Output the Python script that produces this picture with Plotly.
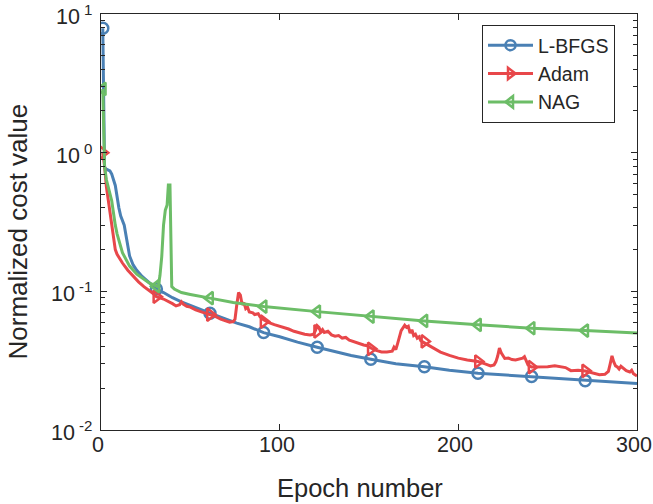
import math
import plotly.graph_objects as go

# ---------------- data ----------------
marker_epochs = [1, 31, 61, 91, 121, 151, 181, 211, 241, 271]

lbfgs_epoch = [1, 2, 3, 5, 6, 8, 10, 11, 13, 14, 16, 18, 20, 23, 26, 29, 31, 35, 40, 45,
               50, 55, 61, 70, 76, 83, 91, 100, 110, 121, 130, 140, 151, 165, 181, 195,
               211, 225, 241, 255, 271, 285, 300]
lbfgs_cost = [7.9, 0.78, 0.76, 0.74, 0.70, 0.58, 0.40, 0.35, 0.30, 0.25, 0.18, 0.155, 0.142,
              0.128, 0.118, 0.108, 0.104, 0.098, 0.090, 0.084, 0.079, 0.074, 0.0695, 0.063,
              0.059, 0.0555, 0.0504, 0.047, 0.043, 0.0395, 0.037, 0.0345, 0.0324, 0.030,
              0.0286, 0.027, 0.0257, 0.025, 0.0243, 0.0234, 0.0227, 0.0222, 0.0216]
lbfgs_mark = [7.9, 0.104, 0.0695, 0.0504, 0.0395, 0.0324, 0.0286, 0.0257, 0.0243, 0.0227]

adam_epoch = [1, 2, 3, 5, 6, 8, 9, 12, 15, 18, 21, 24, 27, 29, 31, 35, 40, 42, 44, 45, 46,
              48, 50, 53, 57, 61, 64, 67, 70, 72, 74, 75, 76, 77, 78, 79, 80, 81, 82, 83,
              85, 86, 88, 89, 91, 94, 97, 100, 102, 105, 108, 111, 114, 117, 119, 120,
              121, 122, 123, 124, 125, 127, 129, 131, 133, 135, 137, 139, 141, 143, 145,
              147, 149, 151, 154, 157, 160, 163, 164, 165, 166, 168, 170, 171, 172, 173,
              174, 175, 176, 177, 178, 179, 181, 183, 186, 190, 195, 200, 205, 211, 215,
              218, 220, 221, 222, 223, 224, 225, 226, 228, 230, 232, 234, 236, 237, 238,
              239, 241, 244, 247, 250, 254, 257, 260, 263, 267, 271, 275, 279, 282, 284,
              285, 286, 287, 288, 289, 290, 291, 292, 293, 294, 296, 297, 298, 300]
adam_cost = [1.0, 0.80, 0.57, 0.38, 0.29, 0.20, 0.185, 0.16, 0.142, 0.128, 0.117, 0.108,
             0.102, 0.097, 0.0915, 0.088, 0.0815, 0.0785, 0.080, 0.084, 0.081, 0.078, 0.077,
             0.0735, 0.0705, 0.068, 0.066, 0.063, 0.061, 0.060, 0.0605, 0.063, 0.080,
             0.098, 0.094, 0.080, 0.083, 0.075, 0.077, 0.071, 0.070, 0.068, 0.069, 0.0655,
             0.0625, 0.0595, 0.0575, 0.056, 0.0545, 0.0535, 0.0515, 0.050, 0.049, 0.0485,
             0.049, 0.052, 0.0565, 0.055, 0.051, 0.053, 0.0505, 0.0515, 0.0485, 0.0475,
             0.048, 0.046, 0.0465, 0.0445, 0.0435, 0.0425, 0.042, 0.041, 0.0405, 0.039,
             0.0375, 0.0365, 0.0365, 0.037, 0.0395, 0.038, 0.042, 0.052, 0.057, 0.055,
             0.056, 0.050, 0.053, 0.048, 0.049, 0.046, 0.047, 0.044, 0.0425, 0.041, 0.039,
             0.0365, 0.0345, 0.033, 0.032, 0.0312, 0.030, 0.029, 0.0295, 0.031, 0.034,
             0.039, 0.036, 0.034, 0.0328, 0.033, 0.0322, 0.032, 0.0325, 0.033, 0.0338,
             0.031, 0.0295, 0.0285, 0.0285, 0.0283, 0.0286, 0.029, 0.0287, 0.0282, 0.0268,
             0.027, 0.0266, 0.0258, 0.025, 0.0252, 0.0265, 0.030, 0.0342, 0.031, 0.029,
             0.0285, 0.0275, 0.0288, 0.028, 0.0275, 0.0268, 0.0262, 0.027, 0.0255, 0.0245]
adam_mark = [1.0, 0.0915, 0.068, 0.0605, 0.0515, 0.0385, 0.0435, 0.0312, 0.0284, 0.0267]

nag_epoch = [1, 2, 3, 5, 6, 8, 9, 12, 16, 20, 24, 27, 31, 32, 33, 34, 35, 36, 37, 37.7,
             38.6, 39.2, 39.6, 41, 45, 50, 55, 61, 74, 91, 121, 151, 181, 211, 241, 271,
             300]
nag_cost = [2.88, 0.80, 0.64, 0.50, 0.45, 0.30, 0.26, 0.19, 0.152, 0.133, 0.122, 0.115,
            0.109, 0.108, 0.13, 0.178, 0.30, 0.385, 0.42, 0.585, 0.585, 0.20, 0.108, 0.104,
            0.098, 0.095, 0.0927, 0.0893, 0.083, 0.0776, 0.0714, 0.0658, 0.0612, 0.0573,
            0.0542, 0.0521, 0.0500]
nag_mark = [2.88, 0.109, 0.0893, 0.0776, 0.0714, 0.0658, 0.0612, 0.0573, 0.0542, 0.0521]

series_names = ["L-BFGS", "Adam", "NAG"]
x_ticks = [0, 100, 200, 300]
x_ticktext = ["0", "100", "200", "300"]
y_tickvals = [0.01, 0.1, 1, 10]
y_ticktext = ["10<sup> -2</sup>", "10<sup> -1</sup>", "10<sup> 0</sup>", "10<sup> 1</sup>"]
y_minor_vals = [m * d for d in (0.01, 0.1, 1) for m in range(2, 10)]
x_title = "Epoch number"
y_title = "Normalized cost value"

# ---------------- styling ----------------
colors = ["#4A80B4", "#E8474A", "#6CBD67"]
symbols = ["circle-open", "triangle-right-open", "triangle-left-open"]
ink = "#262626"
FONT = "Liberation Sans, Arial, Helvetica, sans-serif"
TICK_SIZE = 21.5

W, H = 653, 504
ML, MR, MT, MB = 101, 16, 14, 74
PW, PH = W - ML - MR, H - MT - MB

fig = go.Figure()

series = [
    (lbfgs_epoch, lbfgs_cost, lbfgs_mark),
    (adam_epoch, adam_cost, adam_mark),
    (nag_epoch, nag_cost, nag_mark),
]

# legend-only entries (line + marker sample)
for name, col, sym in zip(series_names, colors, symbols):
    fig.add_trace(go.Scatter(
        x=[None], y=[None], mode="lines+markers", name=name,
        line=dict(color=col, width=3),
        marker=dict(symbol=sym, size=10, color=col, line=dict(color=col, width=2.5)),
    ))

# empty trace that makes the minor-tick overlay axis render
fig.add_trace(go.Scatter(x=[None], y=[None], yaxis="y2", showlegend=False,
                         hoverinfo="skip", mode="lines"))

for (ex, ey, em), name, col, sym in zip(series, series_names, colors, symbols):
    fig.add_trace(go.Scatter(
        x=ex, y=ey, mode="lines", showlegend=False, name=name,
        line=dict(color=col, width=3), hoverinfo="skip",
    ))
    fig.add_trace(go.Scatter(
        x=marker_epochs, y=em, mode="markers", showlegend=False, name=name,
        marker=dict(symbol=sym, size=11, color=col, line=dict(color=col, width=2.5)),
        hoverinfo="skip",
    ))

axis_common = dict(
    showline=True, linecolor=ink, linewidth=1, mirror="ticks",
    ticks="inside", ticklen=6, tickwidth=1, tickcolor=ink,
    showgrid=False, zeroline=False, automargin=False,
    showticklabels=False,
)

annotations = []
# tick labels (positioned through the axes)
for v, t in zip(x_ticks, x_ticktext):
    annotations.append(dict(
        text=t, xref="x", yref="paper", x=v, y=0, xanchor="center", yanchor="top",
        xshift=-3, yshift=-1, showarrow=False,
        font=dict(family=FONT, size=TICK_SIZE, color=ink)))
for v, t in zip(y_tickvals, y_ticktext):
    annotations.append(dict(
        text=t, xref="paper", yref="y", x=0, y=math.log10(v), xanchor="right",
        yanchor="middle", xshift=-7, yshift=-1, showarrow=False,
        font=dict(family=FONT, size=TICK_SIZE, color=ink)))
# axis titles
annotations.append(dict(
    text=x_title, xref="paper", yref="paper",
    x=(360 - ML) / PW, y=-(488 - (MT + PH)) / PH,
    xanchor="center", yanchor="middle", showarrow=False,
    font=dict(family=FONT, size=25.5, color=ink)))
annotations.append(dict(
    text=y_title, xref="paper", yref="paper", textangle=-90,
    x=(17.5 - ML) / PW, y=1 - (232 - MT) / PH,
    xanchor="center", yanchor="middle", showarrow=False,
    font=dict(family=FONT, size=26, color=ink)))

fig.update_layout(
    width=W, height=H,
    margin=dict(l=ML, r=MR, t=MT, b=MB),
    paper_bgcolor="white", plot_bgcolor="white",
    font=dict(family=FONT, color=ink),
    xaxis=dict(range=[0, 300], tickvals=x_ticks, **axis_common),
    yaxis=dict(type="log", range=[-2, 1], tickvals=y_tickvals, **axis_common),
    # overlay axis carrying only the minor log ticks (both sides)
    yaxis2=dict(
        type="log", range=[-2, 1], overlaying="y", anchor="x", side="left",
        tickvals=y_minor_vals, ticks="inside", ticklen=4, tickwidth=1, tickcolor=ink,
        mirror="ticks", showline=False, showticklabels=False, showgrid=False,
        zeroline=False, automargin=False,
    ),
    legend=dict(
        x=(482 - ML) / PW, y=1 - (25 - MT) / PH, xanchor="left", yanchor="top",
        bgcolor="white", bordercolor=ink, borderwidth=1,
        font=dict(family=FONT, size=19.5, color=ink),
        tracegroupgap=0, itemwidth=45,
    ),
    showlegend=True,
    annotations=annotations,
)

fig.write_html("out.html", config={"displayModeBar": False},
               post_script="document.body.style.margin='0px';")
